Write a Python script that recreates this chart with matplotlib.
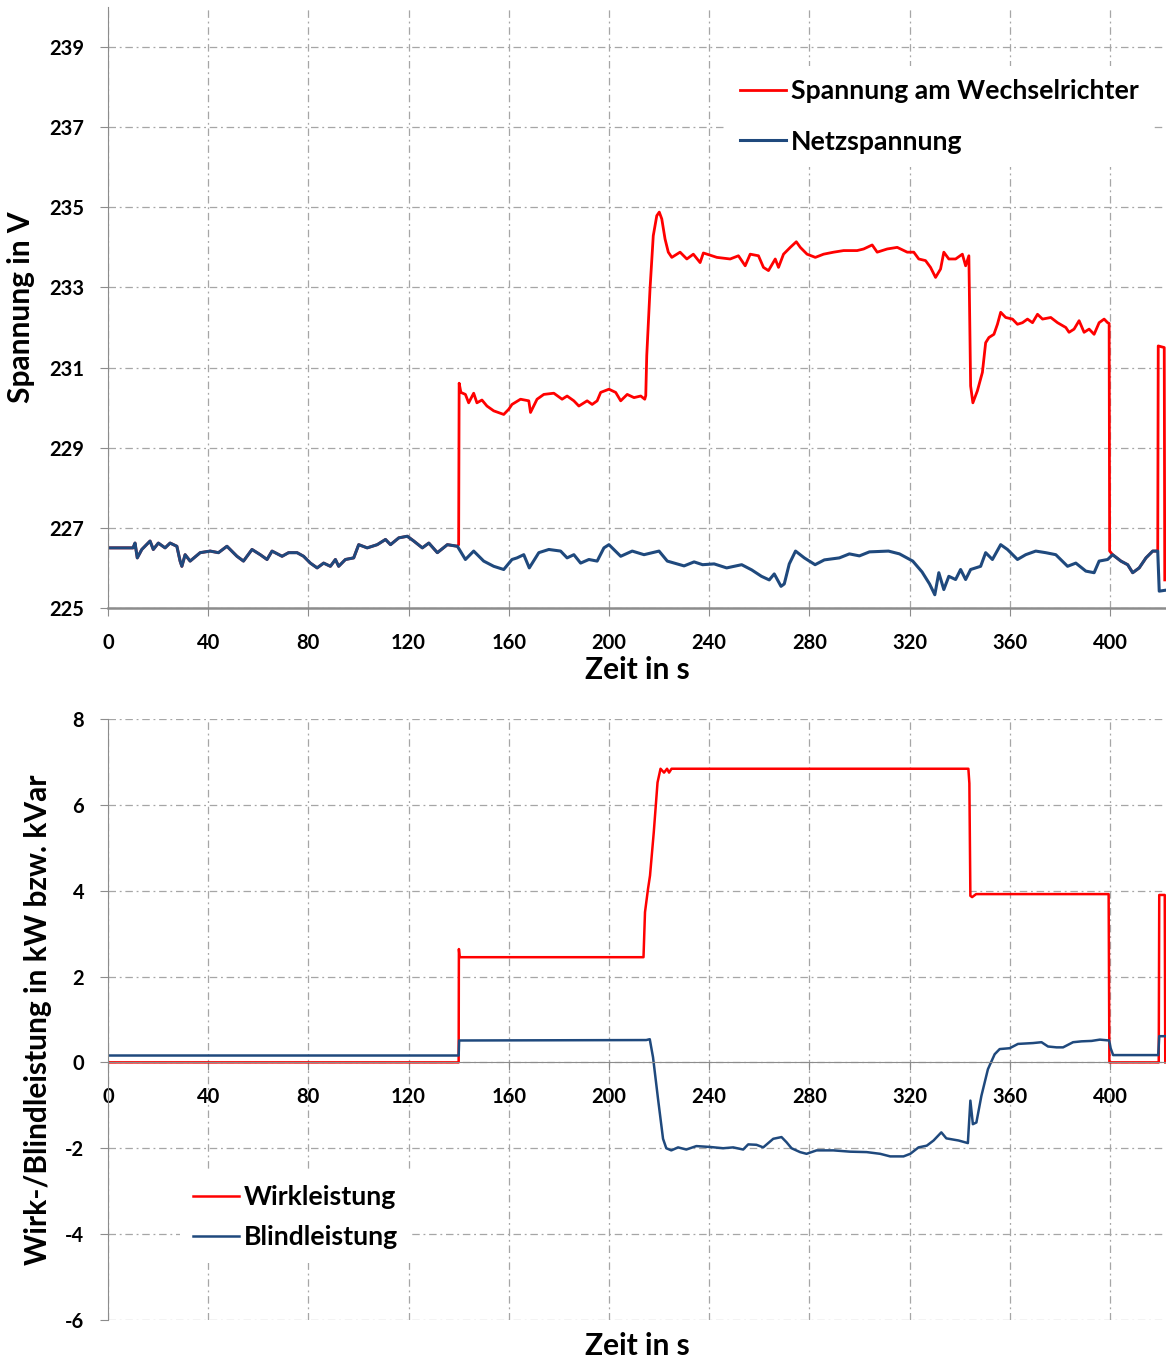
# Spannung / Leistung am Wechselrichter
import matplotlib
matplotlib.use("Agg")
import matplotlib.pyplot as plt

plt.rcParams['font.family'] = ['Lato', 'DejaVu Sans']
plt.rcParams['font.weight'] = 'bold'

# Netzspannung (t in s, U in V)
t_netz = [0, 10, 10.8, 11.7, 13.5, 16.8, 18.1, 20.1, 22.8, 24.8, 27.5, 28.8, 29.5, 30.8, 32.8, 36.8,
          40.8, 44.1, 47.5, 51.5, 54.1, 57.5, 60.8, 63.5, 65.5, 69.5, 72.1, 75.5, 78.1, 80.8, 83.5,
          86.1, 88.8, 90.8, 92.1, 94.8, 98.1, 100.1, 103.5, 107.5, 110.8, 112.8, 116.1, 119.5, 122.1,
          125.5, 128.1, 131.5, 135.5, 139.5, 142.7, 146, 150, 154, 158, 161.3, 163.3, 166, 168.2,
          172, 176, 180.7, 183.3, 186, 188.7, 192, 195.3, 198, 200, 204.7, 209.3, 214, 220, 223.3,
          230, 234, 237.4, 242, 247, 253, 257, 260.9, 264, 266, 268.7, 270, 272, 274.5, 278, 282.3,
          286, 292, 296, 300, 304, 311.6, 316, 321.3, 325, 328, 330.1, 331.7, 333.7, 335.7, 338.4,
          340.4, 342.4, 344.4, 348.4, 350.4, 353.1, 356.4, 359.1, 363.1, 366.4, 370.4, 374.4, 378.4,
          383.1, 386.4, 390.4, 393.7, 395.7, 399.1, 401.1, 404.4, 407.1, 409.1, 411.7, 414.4, 417.1,
          419.1, 419.7, 423]
u_netz = [226.5, 226.5, 226.62, 226.25, 226.46, 226.67, 226.46, 226.62, 226.5, 226.62, 226.54, 226.17,
          226.04, 226.33, 226.17, 226.38, 226.42, 226.38, 226.54, 226.29, 226.17, 226.46, 226.33,
          226.21, 226.42, 226.29, 226.38, 226.38, 226.29, 226.12, 226.0, 226.12, 226.04, 226.21,
          226.04, 226.21, 226.25, 226.58, 226.5, 226.58, 226.71, 226.58, 226.75, 226.79, 226.67,
          226.5, 226.62, 226.38, 226.58, 226.54, 226.21, 226.42, 226.17, 226.04, 225.96, 226.21,
          226.25, 226.33, 226.0, 226.38, 226.46, 226.42, 226.25, 226.33, 226.12, 226.21, 226.17,
          226.5, 226.58, 226.29, 226.42, 226.33, 226.42, 226.17, 226.05, 226.15, 226.08, 226.1,
          226.0, 226.08, 225.95, 225.79, 225.7, 225.85, 225.54, 225.6, 226.1, 226.42, 226.25, 226.08,
          226.2, 226.25, 226.35, 226.3, 226.4, 226.42, 226.35, 226.17, 225.9, 225.6, 225.33, 225.88,
          225.46, 225.79, 225.71, 225.96, 225.71, 225.96, 226.04, 226.38, 226.21, 226.58, 226.46,
          226.21, 226.33, 226.42, 226.38, 226.33, 226.04, 226.12, 225.92, 225.88, 226.17, 226.21,
          226.33, 226.17, 226.08, 225.88, 226.0, 226.25, 226.42, 226.42, 225.42, 225.45]

# Spannung am Wechselrichter ab 140 s (vorher gleich Netzspannung)
t_wr = [140.0, 140.2, 140.9, 142.7, 144, 146, 147.3, 149.3, 151.3, 154, 158, 160, 161.3, 164.7, 168,
        168.7, 171.3, 174, 178, 181.3, 183.3, 186, 188, 191.3, 193.3, 195.3, 196.7, 200, 202.7,
        204.7, 207.3, 210, 212.7, 214.3, 214.7, 215.1, 216.4, 217.7, 219.1, 220.1, 221.1, 222.4,
        223.7, 225.1, 228.4, 231.1, 233.7, 236.4, 237.7, 243.1, 248.4, 251.7, 254.4, 256.4, 259.7,
        261.7, 263.7, 266.4, 267.7, 269.7, 272.4, 274.8, 276.4, 279.1, 282.4, 285.7, 289.7, 293.7,
        299.1, 301.7, 305.1, 307.1, 311.1, 315.1, 319.1, 321.7, 323.7, 326.4, 328.4, 330.4, 332.4,
        333.7, 335.7, 338.4, 341.1, 342.4, 343.7, 344.4, 345.3, 347.1, 349.1, 350.4, 351.7, 353.7,
        355.1, 356.4, 358.4, 361.1, 363.1, 365.1, 367.1, 369.1, 371.1, 373.1, 376.4, 379.1, 382.4,
        383.7, 385.7, 387.7, 389.7, 391.7, 393.7, 395.7, 397.7, 399.1, 399.7, 399.9, 401.1, 404.4,
        407.1, 409.1, 411.7, 414.4, 417.1, 419.1, 419.3, 421.7, 421.9]
u_wr = [226.58, 230.61, 230.38, 230.33, 230.12, 230.36, 230.12, 230.19, 230.04, 229.92, 229.83,
        229.96, 230.08, 230.21, 230.17, 229.88, 230.21, 230.33, 230.36, 230.21, 230.29, 230.17,
        230.04, 230.17, 230.08, 230.17, 230.38, 230.46, 230.38, 230.17, 230.33, 230.25, 230.29,
        230.21, 230.3, 231.3, 232.96, 234.29, 234.79, 234.88, 234.71, 234.21, 233.88, 233.75,
        233.88, 233.71, 233.83, 233.62, 233.86, 233.75, 233.71, 233.79, 233.54, 233.83, 233.79,
        233.5, 233.42, 233.71, 233.5, 233.83, 234.0, 234.14, 234.0, 233.83, 233.75, 233.83, 233.88,
        233.92, 233.92, 233.96, 234.06, 233.88, 233.96, 234.0, 233.88, 233.88, 233.71, 233.67,
        233.5, 233.25, 233.46, 233.88, 233.71, 233.71, 233.83, 233.54, 233.79, 230.54, 230.12,
        230.42, 230.88, 231.62, 231.75, 231.83, 232.08, 232.38, 232.25, 232.21, 232.08, 232.12,
        232.21, 232.12, 232.33, 232.21, 232.25, 232.12, 232.0, 231.88, 231.96, 232.17, 231.88,
        231.96, 231.83, 232.12, 232.21, 232.12, 232.1, 226.42, 226.33, 226.17, 226.08, 225.88,
        226.0, 226.25, 226.42, 226.42, 231.54, 231.5, 225.7]

# Wirkleistung (kW)
t_p = [0, 140.0, 140.1, 140.4, 213.8, 214.4, 215.6, 216.4, 217.9, 219.4, 220.6, 222, 223.2, 224, 225,
       343.5, 343.9, 344.3, 345, 346.6, 399.5, 399.8, 419.5, 419.7, 421.9, 422.1]
p_kw = [0, 0, 2.64, 2.45, 2.45, 3.5, 4.04, 4.35, 5.36, 6.52, 6.84, 6.75, 6.84, 6.75, 6.84,
        6.84, 6.5, 3.88, 3.85, 3.92, 3.92, 0, 0, 3.9, 3.9, 0]

# Blindleistung (kVar)
t_q = [0, 140.0, 140.2, 214.9, 216.3, 217.6, 219.6, 221.6, 222.9, 224.9, 227.6, 230.9, 234.9, 240.3,
       245.6, 249.6, 253.6, 255.6, 258.9, 261.6, 265.6, 268.9, 270.9, 272.9, 276.3, 278.9, 282.9,
       289.6, 296.3, 302.9, 308.3, 312.3, 317.6, 320.3, 323.6, 326.9, 329.6, 332.7, 334.7, 339.6,
       343.3, 344.3, 345.3, 346.7, 348.7, 351.3, 354, 356, 360, 363.3, 369.3, 372.7, 375.3, 378.7,
       381.3, 385.3, 388.7, 392.7, 396, 399.7, 400.3, 401.3, 419.3, 419.7, 423]
q_kvar = [0.16, 0.16, 0.51, 0.52, 0.54, 0.12, -0.85, -1.78, -2.0, -2.05, -1.98, -2.03, -1.95, -1.97,
          -2.0, -1.98, -2.03, -1.91, -1.92, -1.98, -1.78, -1.74, -1.86, -2.0, -2.09, -2.13, -2.05,
          -2.05, -2.08, -2.09, -2.13, -2.19, -2.19, -2.13, -1.98, -1.94, -1.82, -1.63, -1.77, -1.82,
          -1.88, -0.89, -1.44, -1.40, -0.78, -0.16, 0.19, 0.31, 0.33, 0.43, 0.45, 0.47, 0.37, 0.35,
          0.35, 0.47, 0.49, 0.5, 0.53, 0.51, 0.33, 0.17, 0.17, 0.61, 0.61]

xticks = [0, 40, 80, 120, 160, 200, 240, 280, 320, 360, 400]
rot = '#ff0000'
blau = '#1f497d'
grau = '#8c8c8c'
gitter = dict(color='#a6a6a6', linewidth=0.9, linestyle=(0, (6, 3, 1.5, 3)))

fig = plt.figure(figsize=(11.66, 13.65), dpi=100)
ax1 = fig.add_axes([0.0926, 0.5546, 0.9074, 0.4403])
ax2 = fig.add_axes([0.0926, 0.0330, 0.9074, 0.4403])

# oben: Spannung
t_rot = [t for t in t_netz if t < 140] + t_wr
u_rot = [u for t, u in zip(t_netz, u_netz) if t < 140] + u_wr
ax1.plot(t_rot, u_rot, color=rot, linewidth=2.0, label='Spannung am Wechselrichter')
ax1.plot(t_netz, u_netz, color=blau, linewidth=2.2, label='Netzspannung')
ax1.set_xlim(0, 422.4)
ax1.set_ylim(225, 240)
ax1.set_yticks([225, 227, 229, 231, 233, 235, 237, 239])
ax1.set_xticks(xticks)
ax1.grid(True, **gitter)
for s in ['top', 'right']:
    ax1.spines[s].set_visible(False)
ax1.spines['left'].set_color(grau)
ax1.spines['bottom'].set_color(grau)
ax1.spines['bottom'].set_linewidth(1.8)
ax1.tick_params(axis='both', colors=grau, length=6, labelcolor='black', labelsize=14.5)
ax1.tick_params(axis='x', pad=12)
ax1.tick_params(axis='y', pad=11)
ax1.set_xlabel('Zeit in s', fontsize=21.5, fontweight='bold')
ax1.set_ylabel('Spannung in V', fontsize=21.5, fontweight='bold')
ax1.xaxis.set_label_coords(0.5, -0.08)
ax1.yaxis.set_label_coords(-0.069, 0.5)
leg1 = ax1.legend(loc='center left', bbox_to_anchor=(0.585, 0.818), borderaxespad=0,
                  frameon=True, fancybox=False, edgecolor='none', facecolor='white', framealpha=1,
                  fontsize=19.2, handlelength=1.7, handletextpad=0.2, labelspacing=1.0,
                  borderpad=0.5)

# unten: Leistung
ax2.plot(t_p, p_kw, color=rot, linewidth=1.8, label='Wirkleistung')
ax2.plot(t_q, q_kvar, color=blau, linewidth=1.8, label='Blindleistung')
ax2.set_xlim(0, 422.4)
ax2.set_ylim(-6, 8)
ax2.set_yticks([-6, -4, -2, 0, 2, 4, 6, 8])
ax2.set_yticklabels(['-6', '-4', '-2', '0', '2', '4', '6', '8'])
ax2.set_xticks(xticks)
ax2.grid(True, **gitter)
for s in ['top', 'right']:
    ax2.spines[s].set_visible(False)
ax2.spines['bottom'].set_position(('data', 0))
ax2.spines['left'].set_color(grau)
ax2.spines['bottom'].set_color(grau)
ax2.tick_params(axis='both', colors=grau, length=6, labelcolor='black', labelsize=14.5)
ax2.tick_params(axis='x', pad=12)
ax2.tick_params(axis='y', pad=11)
ax2.set_xlabel('Zeit in s', fontsize=21.5, fontweight='bold')
ax2.set_ylabel('Wirk-/Blindleistung in kW bzw. kVar', fontsize=21.5, fontweight='bold')
ax2.xaxis.set_label_coords(0.5, -0.02)
ax2.yaxis.set_label_coords(-0.053, 0.5)
leg2 = ax2.legend(loc='center left', bbox_to_anchor=(0.068, 0.171), borderaxespad=0,
                  frameon=True, fancybox=False, edgecolor='none', facecolor='white', framealpha=1,
                  fontsize=19.2, handlelength=1.7, handletextpad=0.2, labelspacing=0.62,
                  borderpad=0.5)

fig.savefig('out.png', dpi=100)
